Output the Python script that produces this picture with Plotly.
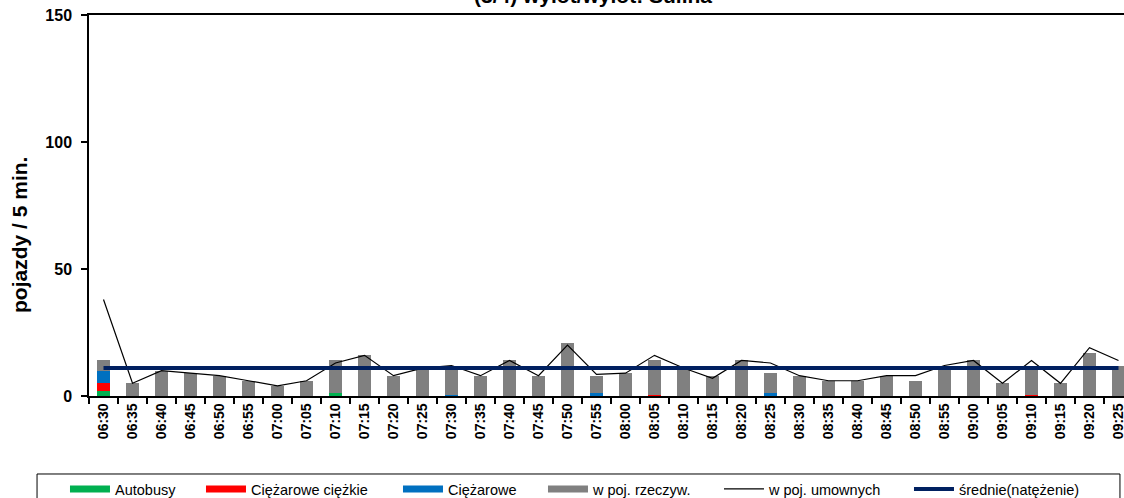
import plotly.graph_objects as go

# przedziały 5-minutowe
godziny = [
    "06:30", "06:35", "06:40", "06:45", "06:50", "06:55",
    "07:00", "07:05", "07:10", "07:15", "07:20", "07:25",
    "07:30", "07:35", "07:40", "07:45", "07:50", "07:55",
    "08:00", "08:05", "08:10", "08:15", "08:20", "08:25",
    "08:30", "08:35", "08:40", "08:45", "08:50", "08:55",
    "09:00", "09:05", "09:10", "09:15", "09:20", "09:25",
]

autobusy = [2, 0, 0, 0, 0, 0, 0, 0, 1, 0, 0, 0,
            0, 0, 0, 0, 0, 0, 0, 0, 0, 0, 0, 0,
            0, 0, 0, 0, 0, 0, 0, 0, 0, 0, 0, 0]
ciezarowe_ciezkie = [3, 0, 0, 0, 0, 0, 0, 0, 0, 0, 0, 0,
                     0, 0, 0, 0, 0, 0, 0, 0.3, 0, 0, 0, 0,
                     0, 0, 0, 0, 0, 0, 0, 0, 0.3, 0, 0, 0]
ciezarowe = [5, 0, 0, 0, 0, 0, 0, 0, 0, 0, 0, 0,
             0.2, 0, 0, 0, 0, 1, 0, 0, 0, 0, 0, 1,
             0, 0, 0, 0, 0, 0, 0, 0, 0, 0, 0, 0]
# suma pojazdów rzeczywistych
rzeczywiste = [14, 5, 10, 9, 8, 6, 4, 6, 14, 16, 8, 11,
               12, 8, 14, 8, 21, 8, 9, 14, 11, 8, 14, 9,
               8, 6, 6, 8, 6, 12, 14, 5, 12, 5, 17, 12]
umowne = [38, 5, 10, 9, 8, 6, 4, 6, 13, 16, 8, 11,
          12, 8, 14, 8, 20, 8.5, 9, 16, 11, 7, 14, 13,
          8, 6, 6, 8, 8, 12, 14, 5, 14, 5, 19, 14]
srednia = 11

reszta = [t - a - b - c for t, a, b, c in zip(rzeczywiste, autobusy, ciezarowe_ciezkie, ciezarowe)]

ZIELONY = "#00B050"
CZERWONY = "#FF0000"
NIEBIESKI = "#0070C0"
SZARY = "#808080"
GRANAT = "#002060"

fig = go.Figure()
for vals, col in [(autobusy, ZIELONY), (ciezarowe_ciezkie, CZERWONY), (ciezarowe, NIEBIESKI), (reszta, SZARY)]:
    fig.add_trace(go.Bar(x=godziny, y=vals, marker=dict(color=col, line=dict(width=0)), showlegend=False))

# wpisy legendy z szerokimi prostokątami
for name, col, lw in [("Autobusy", ZIELONY, 81), ("Ciężarowe ciężkie", CZERWONY, 142),
                      ("Ciężarowe", NIEBIESKI, 90), ("w poj. rzeczyw.", SZARY, 121)]:
    fig.add_trace(go.Scatter(x=[None], y=[None], mode="lines", name=name,
                             line=dict(color=col, width=7), legendwidth=lw))

fig.add_trace(go.Scatter(x=godziny, y=umowne, mode="lines", name="w poj. umownych",
                         line=dict(color="black", width=1.2), legendwidth=135))
fig.add_trace(go.Scatter(x=godziny, y=[srednia] * len(godziny), mode="lines", name="średnie(natężenie)",
                         line=dict(color=GRANAT, width=4), legendwidth=135))

fig.update_layout(
    width=1124, height=498,
    template="none",
    barmode="stack", bargap=0.54,
    paper_bgcolor="white", plot_bgcolor="white",
    margin=dict(l=89, r=0, t=15, b=102, autoexpand=False),
    font=dict(family="Liberation Sans, Arial", color="black"),
    showlegend=True,
    legend=dict(orientation="h", x=-0.0232, xanchor="left", y=-0.2021, yanchor="top",
                font=dict(size=14.5), itemwidth=40, bgcolor="rgba(0,0,0,0)", borderwidth=0,
                traceorder="normal"),
    xaxis=dict(type="category", range=[-0.5, 35.19], showgrid=False, zeroline=False,
               showline=True, linecolor="black", linewidth=1.5, mirror=True,
               ticks="outside", tickson="boundaries", ticklen=6, tickwidth=1.5, tickcolor="black",
               tickangle=-90, tickfont=dict(size=14, weight="bold"), automargin=False),
    yaxis=dict(range=[0, 150], tickvals=[0, 50, 100, 150], showgrid=False, zeroline=False,
               showline=True, linecolor="black", linewidth=1.5,
               ticks="outside", ticklen=6, tickwidth=1.5, tickcolor="black",
               tickfont=dict(size=16, weight="bold"), ticklabelstandoff=6, automargin=False),
    shapes=[dict(type="rect", xref="paper", yref="paper", x0=-0.0502, x1=0.9961, y0=-0.35, y1=-0.2047,
                 line=dict(color="black", width=1), fillcolor="rgba(0,0,0,0)")],
    annotations=[
        dict(text="<b>(3/4) wylot/wylot: Sulina</b>", xref="paper", yref="paper", x=0.487, y=1.016,
             xanchor="center", yanchor="bottom", showarrow=False, font=dict(size=21)),
        dict(text="<b>pojazdy / 5 min.</b>", xref="paper", yref="paper", x=-0.0667, y=0.4226,
             xanchor="center", yanchor="middle", textangle=-90, showarrow=False, font=dict(size=21)),
    ],
)

fig.write_html("out.html", config={"displayModeBar": False},
               post_script="document.body.style.margin='0';document.body.style.overflow='hidden';")
